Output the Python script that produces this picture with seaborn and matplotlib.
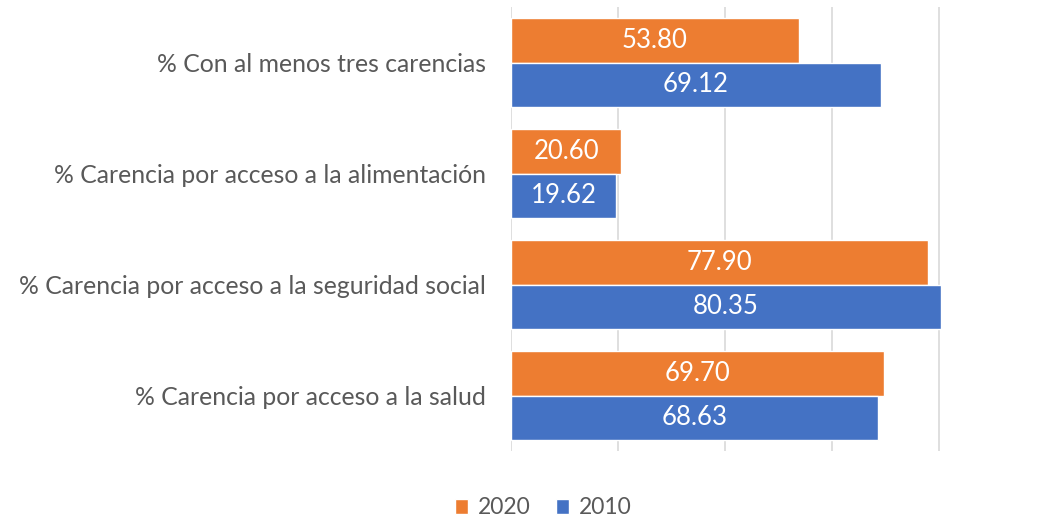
import matplotlib
matplotlib.use("Agg")
import matplotlib.pyplot as plt
import seaborn as sns
import pandas as pd
from matplotlib.patches import Patch

categories = [
    "% Con al menos tres carencias",
    "% Carencia por acceso a la alimentación",
    "% Carencia por acceso a la seguridad social",
    "% Carencia por acceso a la salud",
]
values_2020 = [53.80, 20.60, 77.90, 69.70]
values_2010 = [69.12, 19.62, 80.35, 68.63]
series = ["2020", "2010"]
colors = {"2020": "#ED7D31", "2010": "#4472C4"}
grid_ticks = [0, 20, 40, 60, 80]

df = pd.DataFrame({
    "cat": categories * 2,
    "year": ["2020"] * 4 + ["2010"] * 4,
    "val": values_2020 + values_2010,
})

sns.set_theme(style="white")
plt.rcParams["font.family"] = ["Lato", "DejaVu Sans"]

fig = plt.figure(figsize=(10.38, 5.2), dpi=100)
ax = fig.add_axes([511/1038, 1-451/520, (941-511)/1038, (451-7)/520])

sns.barplot(data=df, y="cat", x="val", hue="year", hue_order=series,
            order=categories, palette=colors, orient="h", width=0.8,
            ax=ax, legend=False, saturation=1)

for cont in ax.containers:
    ax.bar_label(cont, labels=[f"{v:.2f}" for v in cont.datavalues],
                 label_type="center", color="white", fontsize=18.5)

ax.set_xlim(0, 80.4)
ax.set_xticks(grid_ticks)
ax.set_xticklabels([])
ax.xaxis.grid(True, color="#D9D9D9", linewidth=1.2)
ax.set_axisbelow(True)
ax.tick_params(axis="x", length=0)
ax.tick_params(axis="y", length=0, labelsize=17.8, labelcolor="#595959", pad=18)
for s in ax.spines.values():
    s.set_visible(False)
ax.set_xlabel("")
ax.set_ylabel("")

handles = [Patch(facecolor=colors[s], label=s) for s in series]
fig.legend(handles=handles, loc="center", bbox_to_anchor=(543/1038, 1-508/520),
           ncol=2, frameon=False, fontsize=16.5, labelcolor="#595959",
           handlelength=0.6, handleheight=0.6, handletextpad=0.4, columnspacing=1.1)

fig.savefig("out.png", dpi=100)
